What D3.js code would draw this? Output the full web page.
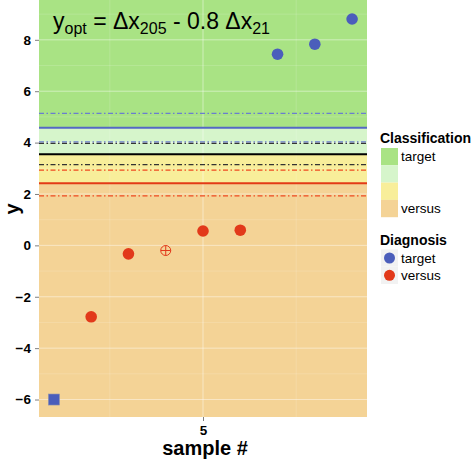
<!DOCTYPE html>
<html><head><meta charset="utf-8">
<script src="https://cdn.jsdelivr.net/npm/d3@7"></script>
<style>body{margin:0;background:#fff}svg{display:block}</style>
</head><body><svg id="c" width="473" height="463"></svg>
<script>
const samples = [1,2,3,4,5,6,7,8,9];
const yValues = [-6.0,-2.78,-0.33,-0.2,0.56,0.59,7.44,7.83,8.81];
const diagnosis = ["target","versus","versus","versus","versus","versus","target","target","target"];
const shapes = ["square","circle","circle","crosshair","circle","circle","circle","circle","circle"];
const bandEdges = [9.6,4.58,3.55,2.42,-6.7];
const bandColors = ["#a9e384","#d6f5cb","#f8ee9a","#f4d396"];
const hLines = [
  {y:5.14,color:"#6a7dd0",style:"dash"},
  {y:4.58,color:"#5568c4",style:"solid"},
  {y:4.03,color:"#6a7dd0",style:"dash"},
  {y:3.97,color:"#333",style:"dash"},
  {y:3.55,color:"#000",style:"solid"},
  {y:3.14,color:"#333",style:"dash"},
  {y:2.93,color:"#ee4a20",style:"dash"},
  {y:2.42,color:"#e33a17",style:"solid"},
  {y:1.93,color:"#ee4a20",style:"dash"}
];
const yTicks = [-6,-4,-2,0,2,4,6,8];
const xTicks = [5];
const colors = {target:"#4b5ebb", versus:"#e2391a"};

const svg = d3.select("#c");
const L=39,R=367,T=0,B=417;
const x = d3.scaleLinear().domain([0.6,9.4]).range([L,R]);
const y = d3.scaleLinear().domain([-6.68,9.55]).range([B,T]);

for(let i=0;i<bandColors.length;i++){
  const y0=Math.max(Math.min(bandEdges[i],9.55),-6.68), y1=Math.max(bandEdges[i+1],-6.68);
  svg.append("rect").attr("x",L).attr("width",R-L)
    .attr("y",y(y0)).attr("height",y(y1)-y(y0)).attr("fill",bandColors[i]);
}
const g = svg.append("g");
d3.range(-6,10,1).forEach(v=>{
  if(v%2!==0) g.append("line").attr("x1",L).attr("x2",R).attr("y1",y(v)).attr("y2",y(v)).attr("stroke","#fff").attr("stroke-opacity",0.25).attr("stroke-width",0.6);
});
yTicks.forEach(v=>g.append("line").attr("x1",L).attr("x2",R).attr("y1",y(v)).attr("y2",y(v)).attr("stroke","#fff").attr("stroke-opacity",0.45).attr("stroke-width",1));
[2.5,7.5].forEach(v=>g.append("line").attr("x1",x(v)).attr("x2",x(v)).attr("y1",T).attr("y2",B).attr("stroke","#fff").attr("stroke-opacity",0.25).attr("stroke-width",0.6));
xTicks.forEach(v=>g.append("line").attr("x1",x(v)).attr("x2",x(v)).attr("y1",T).attr("y2",B).attr("stroke","#fff").attr("stroke-opacity",0.45).attr("stroke-width",1));

hLines.forEach(h=>{
  svg.append("line").attr("x1",L).attr("x2",R).attr("y1",y(h.y)).attr("y2",y(h.y))
    .attr("stroke",h.color).attr("stroke-width",h.style==="solid"?2:1.3)
    .attr("stroke-dasharray",h.style==="dash"?"5,2.5,1.5,2.5":null);
});

samples.forEach((s,i)=>{
  const cx=x(s), cy=y(yValues[i]), col=colors[diagnosis[i]];
  if(shapes[i]==="circle") svg.append("circle").attr("cx",cx).attr("cy",cy).attr("r",5.8).attr("fill",col);
  else if(shapes[i]==="square") svg.append("rect").attr("x",cx-5.5).attr("y",cy-5.5).attr("width",11).attr("height",11).attr("fill",col).attr("stroke","#8a8fb0").attr("stroke-width",0.6);
  else {
    svg.append("circle").attr("cx",cx).attr("cy",cy).attr("r",5).attr("fill","none").attr("stroke",col).attr("stroke-width",1);
    svg.append("line").attr("x1",cx-5).attr("x2",cx+5).attr("y1",cy).attr("y2",cy).attr("stroke",col).attr("stroke-width",1);
    svg.append("line").attr("x1",cx).attr("x2",cx).attr("y1",cy-5).attr("y2",cy+5).attr("stroke",col).attr("stroke-width",1);
  }
});

const ff="Liberation Sans, Arial, sans-serif";
const ya = svg.append("g").attr("transform",`translate(${L},0)`)
  .call(d3.axisLeft(y).tickValues(yTicks).tickSize(4).tickPadding(4).tickFormat(d3.format("d")));
const xa = svg.append("g").attr("transform",`translate(0,${B})`)
  .call(d3.axisBottom(x).tickValues(xTicks).tickSize(4).tickPadding(4));
[ya,xa].forEach(a=>{
  a.select(".domain").remove();
  a.selectAll(".tick line").attr("stroke","#7f7f7f");
  a.selectAll("text").attr("font-family",ff).attr("font-size",13.5).attr("font-weight","bold").attr("fill","#000");
});

const t = svg.append("text").attr("x",53).attr("y",29).attr("font-family",ff).attr("font-size",23).attr("fill","#000");
t.append("tspan").text("y");
t.append("tspan").attr("font-size",16).attr("dy",5).text("opt");
t.append("tspan").attr("dy",-5).text(" = Δx");
t.append("tspan").attr("font-size",16).attr("dy",5).text("205");
t.append("tspan").attr("dy",-5).text(" - 0.8 Δx");
t.append("tspan").attr("font-size",16).attr("dy",5).text("21");

svg.append("text").attr("x",205).attr("y",455).attr("text-anchor","middle").attr("font-family",ff).attr("font-size",20).attr("font-weight","bold").text("sample #");
svg.append("text").attr("transform","translate(19,209) rotate(-90)").attr("text-anchor","middle").attr("font-family",ff).attr("font-size",20).attr("font-weight","bold").text("y");

const lg = svg.append("g");
lg.append("text").attr("x",380).attr("y",143).attr("font-family",ff).attr("font-size",14).attr("font-weight","bold").text("Classification");
const keyLabels = ["target","","","versus"];
bandColors.forEach((c,i)=>{
  lg.append("rect").attr("x",381).attr("y",148+i*17.3).attr("width",17).attr("height",17.3).attr("fill",c);
  if(keyLabels[i]) lg.append("text").attr("x",401).attr("y",148+i*17.3+13).attr("font-family",ff).attr("font-size",13.5).text(keyLabels[i]);
});
lg.append("text").attr("x",380).attr("y",245).attr("font-family",ff).attr("font-size",14).attr("font-weight","bold").text("Diagnosis");
["target","versus"].forEach((k,i)=>{
  const cy=258+i*17.3;
  lg.append("rect").attr("x",381).attr("y",cy-8.6).attr("width",17).attr("height",17.3).attr("fill","#f2f2f2");
  lg.append("circle").attr("cx",389.5).attr("cy",cy).attr("r",5.5).attr("fill",colors[k]);
  lg.append("text").attr("x",401).attr("y",cy+4.5).attr("font-family",ff).attr("font-size",13.5).text(k);
});
</script></body></html>
